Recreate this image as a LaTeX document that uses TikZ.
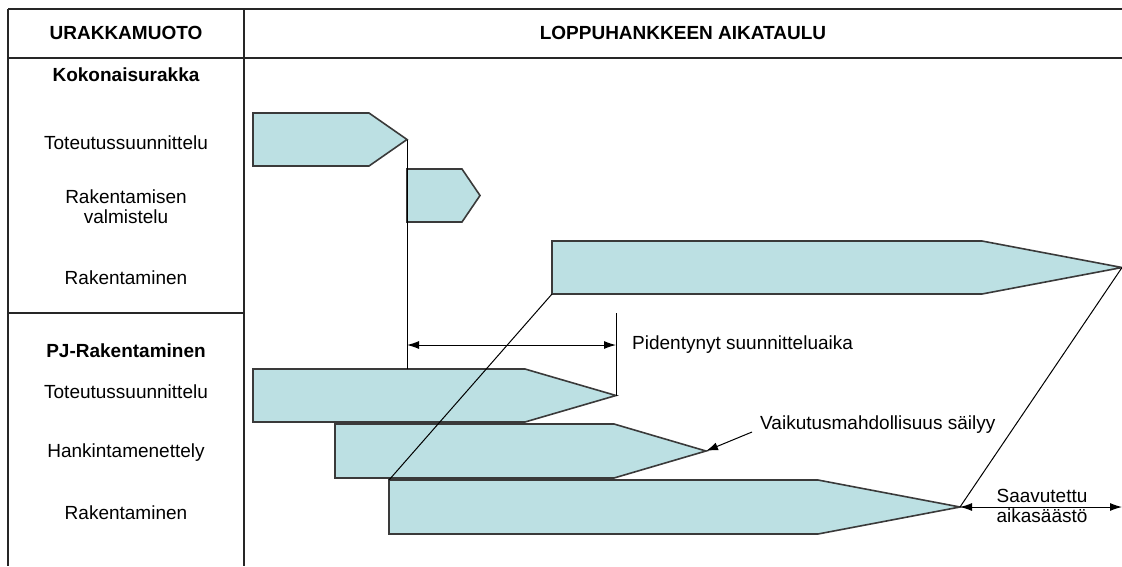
\documentclass[tikz,border=0pt]{standalone}
\usepackage{fontspec}
\setmainfont{Liberation Sans}
\usetikzlibrary{arrows.meta}
\definecolor{barfill}{HTML}{BCE0E3}
\definecolor{barline}{HTML}{3A3A3A}
\tikzset{
  gridline/.style={line width=2pt, draw=black!85},
  barstyle/.style={fill=barfill, draw=barline, line width=1.6pt, line join=miter},
  conn/.style={draw=black, line width=1pt},
  arr/.style={conn, -{Latex[length=12pt,width=8pt]}},
  darr/.style={conn, {Latex[length=12pt,width=8pt]}-{Latex[length=12pt,width=8pt]}},
  lbl/.style={inner sep=0pt, font=\fontsize{19}{20}\selectfont, align=center},
  hdr/.style={lbl, font=\fontsize{19}{20}\selectfont\bfseries},
}
% name, left x, top y, bottom y, shoulder x, tip x
\newcommand{\gbar}[6]{%
  \coordinate (#1-tl) at (#2,#3);
  \coordinate (#1-bl) at (#2,#4);
  \coordinate (#1-tip) at (#6,{(#3+#4)/2});
  \draw[barstyle] (#1-tl) -- (#5,#3) -- (#1-tip) -- (#5,#4) -- (#1-bl) -- cycle;
}
\begin{document}
\begin{tikzpicture}[x=1pt,y=-1pt]
\useasboundingbox (0,0) rectangle (1122,566);
% table
\draw[gridline] (8,9) -- (1122,9);
\draw[gridline] (8,58) -- (1122,58);
\draw[gridline] (8,9) -- (8,566);
\draw[gridline] (244,9) -- (244,566);
\draw[gridline] (8,313) -- (244,313);
% headers and row labels
\node[hdr] (h1) at (126,33) {URAKKAMUOTO};
\node[hdr] (h2) at (683,33) {LOPPUHANKKEEN AIKATAULU};
\node[hdr] (k0) at (126,75) {Kokonaisurakka};
\node[lbl] (k1) at (126,143) {Toteutussuunnittelu};
\node[lbl] (k2) at (126,207) {Rakentamisen\\valmistelu};
\node[lbl] (k3) at (126,278) {Rakentaminen};
\node[hdr] (p0) at (126,351) {PJ-Rakentaminen};
\node[lbl] (p1) at (126,392) {Toteutussuunnittelu};
\node[lbl] (p2) at (126,453) {Hankintamenettely};
\node[lbl] (p3) at (126,513) {Rakentaminen};
% bars
\gbar{ka}{253}{113}{166}{369}{407}
\gbar{kb}{407}{169}{222}{462}{480}
\gbar{kc}{552}{241}{294}{982}{1122}
\gbar{pa}{253}{369}{422}{525}{616}
\gbar{pb}{335}{424}{478}{614}{706}
\gbar{pc}{389}{480}{534}{818}{960}
% connectors
\coordinate (dimtop) at (616,313);
\coordinate (dimL) at (407,345);
\coordinate (dimR) at (616,345);
\coordinate (vstart) at (752,432);
\coordinate (saveR) at (1122,{(480+534)/2});
\draw[conn] (ka-tip) -- (ka-tip |- pa-tl);
\draw[conn] (dimtop) -- (pa-tip);
\draw[darr] (dimL) -- (dimR);
\draw[conn] (kc-bl) -- (pc-tl);
\draw[conn] (kc-tip) -- (pc-tip);
\draw[arr] (vstart) -- (pb-tip);
\draw[darr] (pc-tip) -- (saveR);
% annotations
\node[lbl, anchor=west] (t1) at (632,345) {Pidentynyt suunnitteluaika};
\node[lbl, anchor=west] (t2) at (760,425) {Vaikutusmahdollisuus säilyy};
\node[lbl] (t3) at (1042,506) {Saavutettu\\aikasäästö};
\end{tikzpicture}
\end{document}
